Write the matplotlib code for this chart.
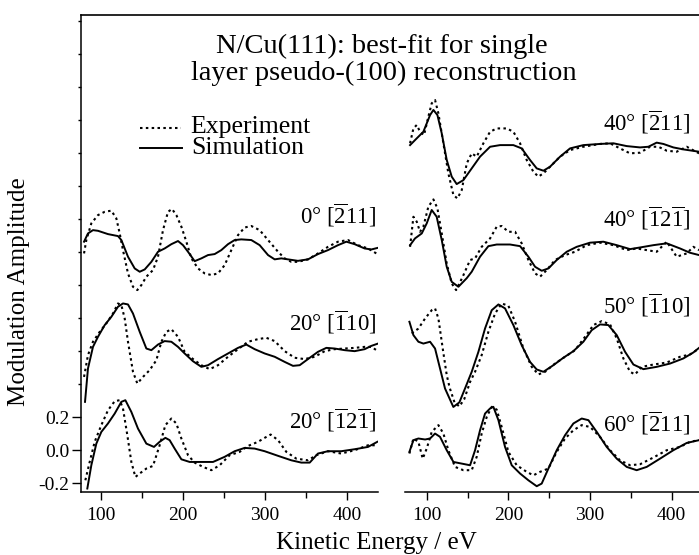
import numpy as np
import matplotlib.pyplot as plt
from matplotlib.lines import Line2D

plt.rcParams['font.family'] = ['Liberation Serif', 'DejaVu Serif']
plt.rcParams['mathtext.fontset'] = 'custom'
plt.rcParams['mathtext.rm'] = 'Liberation Serif'
plt.rcParams['axes.unicode_minus'] = False

# ---------------- data (kinetic energy in eV, modulation amplitude) ----------------
# left panel, 0 deg [-211]  (offset 1.2)
e_l1_sim = [79.3, 84.1, 90.2, 96.3, 108.5, 120.7, 124.8, 132.9, 141.1, 147.2, 153.3, 161.4, 169.5,
            177.6, 185.8, 193.9, 200, 206.1, 214.2, 222.4, 230.5, 238.6, 246.7, 254.9, 263, 271.1,
            283.3, 293.5, 303.7, 311.8, 319.9, 328, 340.2, 352.4, 364.6, 376.8, 389, 399.2, 409.3,
            421.5, 429.7, 437.8]
a_l1_sim = [0.063, 0.113, 0.133, 0.129, 0.109, 0.097, 0.073, -0.028, -0.099, -0.119, -0.105, -0.059,
            0.002, 0.022, 0.048, 0.067, 0.042, 0.002, -0.055, -0.038, -0.018, -0.012, 0.012, 0.048,
            0.073, 0.077, 0.073, 0.042, -0.018, -0.044, -0.038, -0.044, -0.053, -0.044, -0.012, 0.012,
            0.042, 0.063, 0.048, 0.022, 0.016, 0.026]
e_l1_exp = [79.3, 82.1, 88.2, 96.3, 104.5, 112.6, 118.7, 122.8, 126.8, 132.9, 139, 144.3, 149.2,
            155.3, 163.4, 169.5, 175.6, 181.7, 186.6, 191.9, 198, 204.1, 210.2, 218.3, 226.4, 234.6,
            242.7, 250.8, 258.9, 267.1, 275.2, 283.3, 293.5, 303.7, 315.9, 324, 332.1, 340.2, 352.4,
            364.6, 376.8, 389, 401.2, 413.4, 425.6, 435.8]
a_l1_exp = [-0.008, 0.073, 0.174, 0.224, 0.244, 0.251, 0.204, 0.113, 0.012, -0.129, -0.21, -0.23,
            -0.2, -0.149, -0.109, -0.028, 0.133, 0.244, 0.261, 0.224, 0.154, 0.063, -0.038, -0.099,
            -0.129, -0.139, -0.129, -0.079, 0.012, 0.103, 0.149, 0.158, 0.133, 0.073, 0.002, -0.038,
            -0.059, -0.059, -0.044, -0.008, 0.032, 0.063, 0.073, 0.042, 0.022, -0.008]

# left panel, 20 deg [-110]  (offset 0.6)
e_l2_sim = [80.5, 84.1, 90.2, 96.3, 104.5, 112.6, 120.7, 126.8, 132.9, 139, 147.2, 155.3, 161.4,
            169.5, 177.6, 185.8, 193.9, 202, 212.2, 222.4, 230.5, 242.7, 254.9, 267.1, 277.2, 287.4,
            299.6, 311.8, 324, 334.1, 342.3, 352.4, 364.6, 374.8, 384.9, 397.2, 409.3, 421.5, 429.7,
            437.8]
a_l2_sim = [-0.307, -0.105, 0.026, 0.087, 0.158, 0.208, 0.269, 0.289, 0.283, 0.228, 0.117, 0.016,
            0.006, 0.04, 0.061, 0.057, 0.026, -0.014, -0.061, -0.095, -0.085, -0.048, -0.014, 0.02,
            0.04, 0.012, -0.014, -0.034, -0.065, -0.089, -0.085, -0.048, -0.004, 0.02, 0.016, 0.006,
            0.0, 0.012, 0.032, 0.046]
e_l2_exp = [79.3, 84.1, 90.2, 98.4, 106.5, 114.6, 120.7, 124.8, 128.9, 132.9, 139, 144.3, 151.2,
            159.3, 167.5, 173.6, 179.7, 185.8, 193.9, 202, 212.2, 222.4, 232.5, 242.7, 254.9, 267.1,
            279.3, 291.5, 301.6, 311.8, 324, 336.2, 348.4, 360.6, 372.8, 384.9, 397.2, 409.3, 421.5,
            429.7, 437.8]
a_l2_exp = [-0.156, -0.024, 0.057, 0.117, 0.168, 0.228, 0.289, 0.279, 0.198, 0.057, -0.125, -0.196,
            -0.156, -0.115, -0.055, 0.057, 0.117, 0.133, 0.087, -0.004, -0.048, -0.085, -0.109,
            -0.085, -0.034, 0.012, 0.057, 0.073, 0.081, 0.061, 0.0, -0.04, -0.048, -0.034, 0.0, 0.012,
            0.016, 0.02, 0.026, 0.026, 0.0]

# left panel, 20 deg [-12-1]  (offset 0)
e_l3_sim = [83.3, 88.2, 94.3, 100.4, 108.5, 116.7, 124.8, 129.7, 137, 145.1, 155.3, 164.6, 171.5,
            178.5, 183.7, 189.8, 198, 208.1, 222.4, 236.6, 250.8, 263, 275.2, 287.4, 299.6, 315.9,
            332.1, 344.3, 354.5, 364.6, 376.8, 393, 409.3, 425.6, 437]
a_l3_sim = [-0.232, -0.091, 0.04, 0.111, 0.162, 0.222, 0.293, 0.303, 0.232, 0.131, 0.04, 0.02, 0.051,
            0.075, 0.061, 0.01, -0.055, -0.071, -0.071, -0.071, -0.04, -0.006, 0.014, 0.01, -0.006,
            -0.034, -0.061, -0.075, -0.075, -0.02, -0.006, -0.006, 0.006, 0.02, 0.051]
e_l3_exp = [80.9, 86.2, 92.3, 100.4, 108.5, 116.7, 122.8, 126.8, 132.1, 137, 141.9, 147.2, 155.3,
            163.4, 171.5, 178.5, 185.8, 191.9, 198, 206.1, 214.2, 224.4, 234.6, 244.7, 256.9, 269.1,
            279.3, 291.5, 299.6, 306.9, 315.9, 326, 338.2, 352.4, 362.6, 376.8, 393, 409.3, 425.6, 437]
a_l3_exp = [-0.182, -0.071, 0.051, 0.152, 0.242, 0.297, 0.303, 0.253, 0.091, -0.071, -0.162, -0.141,
            -0.111, -0.095, 0.03, 0.152, 0.192, 0.162, 0.071, -0.03, -0.075, -0.101, -0.121, -0.091,
            -0.03, -0.01, 0.026, 0.051, 0.075, 0.095, 0.061, -0.01, -0.051, -0.061, -0.03, -0.006,
            -0.02, 0.0, 0.03, 0.03]

# right panel, 40 deg [-211]  (offset 1.8)
e_r1_sim = [79.6, 87.8, 95.9, 104.1, 108.2, 113.1, 118.4, 124.5, 130.6, 136.7, 144.9, 155.1, 165.3,
            177.6, 189.8, 206.1, 216.3, 226.5, 234.7, 242.9, 251, 263.3, 275.5, 291.8, 312.2, 328.6,
            344.9, 361.2, 371.4, 381.6, 389.8, 402, 414.3, 433.5]
a_r1_sim = [0.048, 0.089, 0.129, 0.23, 0.261, 0.23, 0.119, -0.042, -0.143, -0.188, -0.164, -0.093,
            -0.022, 0.038, 0.048, 0.048, 0.028, -0.042, -0.093, -0.107, -0.083, -0.022, 0.028, 0.048,
            0.055, 0.059, 0.042, 0.034, 0.038, 0.063, 0.055, 0.034, 0.022, 0.008]
e_r1_exp = [79.6, 83.7, 87.8, 91.8, 96.7, 102, 106.1, 110.2, 114.3, 120.4, 126.5, 132.7, 137.6, 142.9,
            149, 155.1, 161.2, 169.4, 177.6, 185.7, 198, 206.1, 214.3, 222.4, 230.6, 236.7, 242.9,
            251, 263.3, 275.5, 291.8, 312.2, 324.5, 336.7, 349, 361.2, 373.5, 383.7, 393.9, 406.1,
            418.4, 433.5]
a_r1_exp = [0.059, 0.149, 0.17, 0.129, 0.109, 0.22, 0.301, 0.321, 0.24, 0.059, -0.123, -0.255,
            -0.275, -0.224, -0.063, -0.002, -0.022, 0.059, 0.129, 0.149, 0.149, 0.129, 0.059, -0.042,
            -0.113, -0.143, -0.123, -0.083, -0.022, 0.018, 0.038, 0.055, 0.059, 0.028, -0.002, 0.002,
            0.038, 0.038, 0.014, 0.008, 0.038, -0.002]

# right panel, 40 deg [-12-1]  (offset 1.2)
e_r2_sim = [79.6, 85.7, 93.9, 100, 106.1, 112.2, 118.4, 124.5, 130.6, 138.8, 149, 155.1, 165.3, 175.5,
            185.7, 202, 214.3, 224.5, 232.7, 240.8, 249, 259.2, 271.4, 283.7, 300, 316.3, 332.7, 349,
            361.2, 377.6, 393.9, 410.2, 422.4, 433.5]
a_r2_sim = [0.042, 0.083, 0.113, 0.174, 0.255, 0.214, 0.073, -0.089, -0.18, -0.21, -0.158, -0.119,
            -0.028, 0.036, 0.046, 0.046, 0.036, -0.028, -0.089, -0.113, -0.099, -0.048, 0.002, 0.032,
            0.057, 0.063, 0.042, 0.018, 0.028, 0.042, 0.053, 0.022, -0.004, -0.018]
e_r2_exp = [79.6, 83.7, 87.8, 91.8, 95.9, 102, 108.2, 113.1, 118.4, 124.5, 130.6, 136, 144, 153.1,
            159.2, 167.3, 177.6, 185.7, 191.8, 200, 208.2, 216.3, 224.5, 232.7, 238.8, 246.9, 257.1,
            269.4, 281.6, 295.9, 312.2, 328.6, 344.9, 357.1, 369.4, 381.6, 393.9, 406.1, 418.4, 426.5,
            433.5]
a_r2_exp = [0.032, 0.214, 0.184, 0.123, 0.154, 0.275, 0.319, 0.265, 0.113, -0.069, -0.19, -0.23,
            -0.15, -0.048, -0.038, 0.032, 0.083, 0.154, 0.158, 0.123, 0.123, 0.053, -0.048, -0.129,
            -0.149, -0.109, -0.048, -0.018, 0.002, 0.042, 0.057, 0.042, 0.012, 0.022, 0.012, 0.002,
            0.063, -0.028, -0.008, 0.032, 0.012]

# right panel, 50 deg [-110]  (offset 0.6)
e_r3_sim = [78.8, 83.7, 89.8, 95.9, 104.1, 110.2, 116.3, 122.4, 132.6, 140, 146.9, 155.1, 163.3,
            171.4, 179.6, 187.8, 195.9, 206.1, 216.3, 226.5, 234.7, 242.9, 255.1, 267.3, 279.6, 291.8,
            302, 312.2, 322.4, 332.7, 342.9, 353.1, 365.3, 381.6, 398, 414.3, 426.5, 433.5]
a_r3_sim = [0.178, 0.097, 0.057, 0.046, 0.057, 0.016, -0.105, -0.226, -0.338, -0.31, -0.226, -0.125,
            -0.004, 0.137, 0.248, 0.283, 0.259, 0.158, 0.036, -0.065, -0.111, -0.125, -0.085, -0.04,
            0.0, 0.057, 0.127, 0.162, 0.158, 0.097, -0.004, -0.081, -0.109, -0.095, -0.075, -0.044,
            -0.008, 0.02]
e_r3_exp = [81.6, 89.8, 98, 106.1, 110.2, 114.3, 119.6, 124.5, 128, 134, 140, 146, 153.1, 159.2,
            167.3, 175.5, 183.7, 191.8, 200, 208.2, 218.4, 228.6, 236.7, 244.9, 257.1, 269.4, 281.6,
            293.9, 304.1, 314.3, 324.5, 332.7, 340.8, 349, 355.1, 363.3, 377.6, 393.9, 410.2, 422.4,
            433.5]
a_r3_exp = [0.107, 0.137, 0.198, 0.248, 0.259, 0.198, 0.016, -0.145, -0.22, -0.31, -0.335, -0.29,
            -0.186, -0.125, -0.024, 0.117, 0.228, 0.289, 0.275, 0.178, 0.016, -0.095, -0.141, -0.125,
            -0.075, -0.034, 0.006, 0.087, 0.158, 0.182, 0.162, 0.077, -0.044, -0.125, -0.141, -0.095,
            -0.081, -0.069, -0.034, -0.02, 0.016]

# right panel, 60 deg [-211]  (offset 0)
e_r4_sim = [78.8, 83.7, 89.8, 98, 104.1, 110.2, 116.3, 124.5, 132.7, 142.9, 153.1, 159.2, 165.3,
            171.4, 177.6, 181.6, 187.8, 195.9, 204.1, 214.3, 224.5, 234.7, 240.8, 249, 259.2, 269.4,
            279.6, 289.8, 298, 308.2, 320.4, 332.7, 344.9, 357.1, 369.4, 385.7, 402, 418.4, 433.5]
a_r4_sim = [-0.01, 0.061, 0.071, 0.065, 0.071, 0.101, 0.081, 0.0, -0.071, -0.081, -0.091, 0.0, 0.121,
            0.222, 0.253, 0.263, 0.182, 0.02, -0.091, -0.141, -0.182, -0.218, -0.202, -0.111, 0.0,
            0.091, 0.162, 0.192, 0.182, 0.111, 0.02, -0.051, -0.101, -0.121, -0.101, -0.051, 0.0,
            0.044, 0.061]
e_r4_exp = [78.8, 83.7, 89.8, 95.1, 100, 106.1, 114.3, 120.4, 126.5, 134.7, 144.9, 155.1, 161.2,
            167.3, 173.5, 179.6, 185.7, 191.8, 200, 210.2, 222.4, 230.6, 238.8, 249, 259.2, 269.4,
            279.6, 289.8, 300, 312.2, 324.5, 336.7, 349, 361.2, 377.6, 393.9, 410.2, 422.4, 433.5]
a_r4_exp = [-0.02, 0.071, 0.051, -0.051, 0.01, 0.111, 0.152, 0.101, 0.0, -0.101, -0.121, -0.121,
            -0.04, 0.101, 0.202, 0.263, 0.246, 0.141, -0.01, -0.091, -0.131, -0.152, -0.131, -0.111,
            -0.01, 0.071, 0.121, 0.152, 0.141, 0.081, 0.0, -0.061, -0.091, -0.085, -0.044, 0.0, 0.02,
            0.051, 0.061]

left_offsets = [1.2, 0.6, 0.0]
right_offsets = [1.8, 1.2, 0.6, 0.0]
left_labels = [r'0° [$\overline{\mathrm{2}}$11]', r'20° [$\overline{\mathrm{1}}$10]',
               r'20° [$\overline{\mathrm{1}}$2$\overline{\mathrm{1}}$]']
right_labels = [r'40° [$\overline{\mathrm{2}}$11]', r'40° [$\overline{\mathrm{1}}$2$\overline{\mathrm{1}}$]',
                r'50° [$\overline{\mathrm{1}}$10]', r'60° [$\overline{\mathrm{2}}$11]']
left_label_y = [1.424, 0.776, 0.182]
right_label_y = [1.988, 1.406, 0.879, 0.164]

left_curves = [(e_l1_exp, a_l1_exp, e_l1_sim, a_l1_sim),
               (e_l2_exp, a_l2_exp, e_l2_sim, a_l2_sim),
               (e_l3_exp, a_l3_exp, e_l3_sim, a_l3_sim)]
right_curves = [(e_r1_exp, a_r1_exp, e_r1_sim, a_r1_sim),
                (e_r2_exp, a_r2_exp, e_r2_sim, a_r2_sim),
                (e_r3_exp, a_r3_exp, e_r3_sim, a_r3_sim),
                (e_r4_exp, a_r4_exp, e_r4_sim, a_r4_sim)]

# ---------------- figure ----------------
W, H = 699, 555
fig = plt.figure(figsize=(W / 100, H / 100), dpi=100)
ax1 = fig.add_axes([81 / W, 1 - 492 / H, 297 / W, 477 / H])
ax2 = fig.add_axes([405 / W, 1 - 492 / H, 297 / W, 477 / H])

ylim = (-0.253, 2.636)
dot_style = dict(color='black', lw=1.5, linestyle=(0, (1.2, 1.6)))
sol_style = dict(color='black', lw=1.4, solid_joinstyle='round')

for ax, curves, offs, labels, ly, xl in [
        (ax1, left_curves, left_offsets, left_labels, left_label_y, 436),
        (ax2, right_curves, right_offsets, right_labels, right_label_y, 423)]:
    for (ee, ae, es, asim), off, lab, yy in zip(curves, offs, labels, ly):
        ax.plot(ee, np.array(ae) + off, **dot_style)
        ax.plot(es, np.array(asim) + off, **sol_style)
        ax.text(xl, yy, lab, ha='right', va='center', fontsize=16.5)
    ax.set_ylim(*ylim)
    ax.set_xticks([100, 200, 300, 400])
    ax.set_xticks([150, 250, 350], minor=True)
    ax.tick_params(axis='x', which='major', direction='out', length=5.5, width=1, labelsize=14, pad=5)
    ax.tick_params(axis='x', which='minor', direction='out', length=4.5, width=1)
    for s in ['top', 'right']:
        ax.spines[s].set_visible(False)
    for s in ['left', 'bottom']:
        ax.spines[s].set_linewidth(1.1)

ax1.set_xlim(75.6, 437.8)
ax2.set_xlim(73.4, 437.1)

# labelled y ticks are long, the others short
yt_major = [-0.2, 0.0, 0.2]
yt_minor = [0.4, 0.6, 0.8, 1.0, 1.2, 1.4, 1.6, 1.8, 2.0, 2.2, 2.4, 2.6]
ax1.set_yticks(yt_major)
ax1.set_yticklabels(['-0.2', '0.0', '0.2'])
ax1.set_yticks(yt_minor, minor=True)
ax1.tick_params(axis='y', which='major', direction='out', length=6.5, width=1, labelsize=14, pad=2)
ax1.tick_params(axis='y', which='minor', direction='out', length=2.5, width=1)
ax2.spines['left'].set_visible(False)
ax2.set_yticks([])

# top frame line across both panels
fig.add_artist(Line2D([81 / W, 1.0], [1 - 15 / H, 1 - 15 / H], color='black', lw=1.2))

fig.text(382 / W, 1 - 46 / H, 'N/Cu(111): best-fit for single', ha='center', va='center', fontsize=20.5)
fig.text(384 / W, 1 - 73 / H, 'layer pseudo-(100) reconstruction', ha='center', va='center', fontsize=20.5)

# legend, placed by hand
fig.add_artist(Line2D([140 / W, 181 / W], [1 - 128 / H, 1 - 128 / H], **dot_style))
fig.add_artist(Line2D([140 / W, 182 / W], [1 - 148 / H, 1 - 148 / H], **sol_style))
fig.text(190 / W, 1 - 127 / H, 'Experiment', ha='left', va='center', fontsize=18.5)
fig.text(191 / W, 1 - 148 / H, 'Simulation', ha='left', va='center', fontsize=18.5)

fig.text(376 / W, 1 - 543 / H, 'Kinetic Energy / eV', ha='center', va='center', fontsize=18)
fig.text(19 / W, 1 - 292 / H, 'Modulation Amplitude', ha='center', va='center', rotation=90, fontsize=18)

fig.savefig('out.png', dpi=100)
